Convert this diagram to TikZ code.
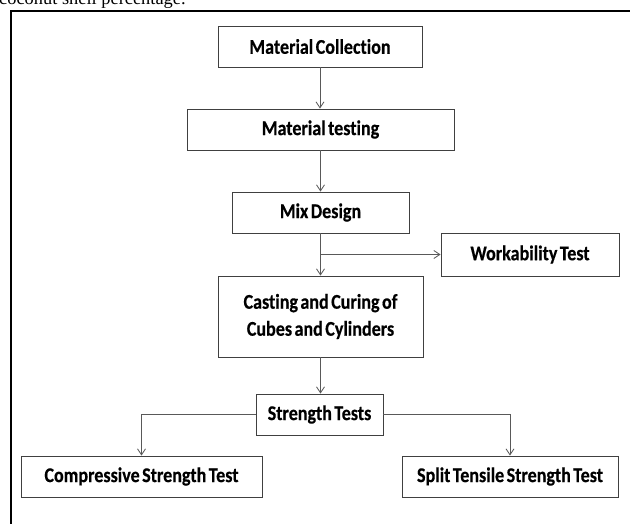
\documentclass[tikz,border=0pt]{standalone}
\usepackage{fontspec}
\usetikzlibrary{arrows.meta}
\newfontfamily\boxfont[FakeStretch=0.86,FakeBold=0.4,WordSpace=0.6,Ligatures={NoCommon}]{Carlito}
\newfontfamily\serffont{Liberation Serif}
\tikzset{
  flowbox/.style={draw=black!75, line width=0.9pt, rectangle, inner sep=0pt,
    align=center, font=\boxfont\bfseries\fontsize{21}{27}\selectfont},
  flowarrow/.style={draw=black!65, line width=0.8pt,
    -{Straight Barb[length=6pt,width=8pt]}},
  frameline/.style={draw=black, line width=2pt}
}
\begin{document}
\begin{tikzpicture}[x=1pt,y=-1pt]
\useasboundingbox (0,0) rectangle (630,524);
\clip (0,0) rectangle (630,524);
\node[anchor=base west, inner sep=0pt, font=\serffont\fontsize{18.4}{20}\selectfont] (cap) at (-1,5) {coconut shell percentage.};
\draw[frameline] (11,524) -- (11,11) -- (630,11);

\node[flowbox, minimum width=204pt, minimum height=41pt] (mc) at (320,46.5) {Material Collection};
\node[flowbox, minimum width=267pt, minimum height=41pt] (mt) at (320.5,129.5) {Material testing};
\node[flowbox, minimum width=177pt, minimum height=41pt] (md) at (320.5,212.5) {Mix Design};
\node[flowbox, minimum width=178pt, minimum height=43pt] (wt) at (530,254.5) {Workability Test};
\node[flowbox, minimum width=205pt, minimum height=81pt] (cc) at (320.5,316.5) {Casting and Curing of\\Cubes and Cylinders};
\node[flowbox, minimum width=127pt, minimum height=41pt] (st) at (319.5,414.5) {Strength Tests};
\node[flowbox, minimum width=241pt, minimum height=41pt] (cs) at (141.5,476.5) {Compressive Strength Test};
\node[flowbox, minimum width=216pt, minimum height=41pt] (sp) at (510,476.5) {Split Tensile Strength Test};

\coordinate (j) at (md.south |- wt.west);
\draw[flowarrow] (mc.south) -- (mc.south |- mt.north);
\draw[flowarrow] (mt.south) -- (mt.south |- md.north);
\draw[flowarrow] (md.south) -- (md.south |- cc.north);
\draw[flowarrow] (j) -- (wt.west);
\draw[flowarrow] (cc.south) -- (cc.south |- st.north);
\draw[flowarrow] (st.west) -| (cs.north);
\draw[flowarrow] (st.east) -| (sp.north);
\end{tikzpicture}
\end{document}
